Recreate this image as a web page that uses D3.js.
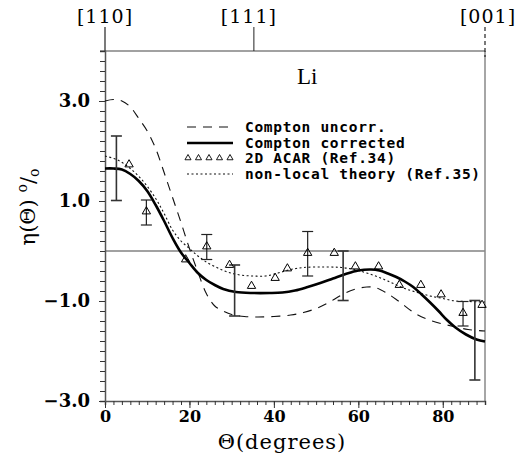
<!DOCTYPE html>
<html>
<head>
<meta charset="utf-8">
<style>
  body { margin: 0; background: #fff; }
  svg text { fill: #000; }
  .tick text { font-family: "DejaVu Serif", serif; font-weight: bold; }
  .legend { font-family: "DejaVu Sans Mono", monospace; font-size: 14.5px; font-weight: bold; letter-spacing: 0.7px; }
</style>
</head>
<body>
<script src="https://d3js.org/d3.v7.min.js"></script>
<script>
// Compton uncorrected (dashed)
var uncorrTheta = [0, 2, 4, 6, 8, 10, 12, 14, 16, 18, 20, 22, 24, 26, 28, 30, 33, 36, 40, 44, 47, 50, 53, 56, 59, 62, 64, 66.5, 69.5, 73.5, 77.5, 82, 86, 90];
var uncorrVals  = [3.0, 3.03, 3.0, 2.88, 2.65, 2.4, 2.05, 1.57, 1.07, 0.57, 0.05, -0.42, -0.85, -1.1, -1.2, -1.27, -1.31, -1.32, -1.31, -1.28, -1.23, -1.15, -1.03, -0.88, -0.77, -0.72, -0.73, -0.83, -1.0, -1.25, -1.4, -1.5, -1.57, -1.6];

// Compton corrected (thick solid)
var corrTheta = [0, 2, 4, 6, 8, 10, 12, 14, 16, 18, 20, 22, 24, 26, 28, 31, 35, 39, 42, 45, 48, 51, 54, 57, 60, 63, 65, 67, 69, 71, 73, 75, 77, 79, 81, 83, 85.5, 88, 90];
var corrVals  = [1.65, 1.65, 1.63, 1.54, 1.4, 1.2, 0.92, 0.6, 0.26, -0.03, -0.24, -0.44, -0.58, -0.68, -0.76, -0.82, -0.84, -0.84, -0.83, -0.79, -0.72, -0.64, -0.55, -0.46, -0.39, -0.37, -0.39, -0.45, -0.52, -0.61, -0.72, -0.87, -1.03, -1.2, -1.38, -1.53, -1.67, -1.77, -1.81];

// non-local theory (dotted)
var theoryTheta = [0, 3, 6, 9, 12, 14, 16, 18, 20, 22, 24, 26.5, 29, 32, 35, 38, 41, 44, 47, 52, 56, 59, 62, 65, 68, 71, 74, 77, 80, 83, 86, 90];
var theoryVals  = [1.9, 1.82, 1.65, 1.4, 1.05, 0.75, 0.42, 0.2, 0.05, -0.1, -0.22, -0.33, -0.42, -0.48, -0.5, -0.5, -0.44, -0.37, -0.33, -0.32, -0.33, -0.37, -0.44, -0.53, -0.64, -0.75, -0.83, -0.9, -0.95, -1.0, -1.01, -1.02];

// 2D ACAR points (triangles)
var acarTheta = [5.7, 9.8, 19.1, 24.1, 29.5, 34.7, 40.3, 43.2, 48, 54.3, 59.3, 64.8, 69.7, 74.8, 79.6, 84.8, 89.3];
var acarVals  = [1.71, 0.77, -0.19, 0.07, -0.3, -0.72, -0.56, -0.37, -0.06, -0.06, -0.33, -0.33, -0.7, -0.7, -0.89, -1.26, -1.1];

// error bars [theta, low, high]
var acarErrors = [[9.8, 0.52, 1.02], [24.1, -0.17, 0.33], [48, -0.5, 0.39], [84.8, -1.5, -1.01]];
var corrErrors = [[2.7, 1.01, 2.3], [30.7, -1.3, -0.28], [56.4, -0.99, 0.0], [87.6, -2.58, -0.99]];

var xTicks = [0, 20, 40, 60, 80];
var yTicks = [-3, -1, 1, 3];
var dirLabels = ["[110]", "[111]", "[001]"];
var dirTheta = [0, 35.26, 90];
var legendLabels = ["Compton uncorr.", "Compton corrected", "2D ACAR (Ref.34)", "non-local theory (Ref.35)"];

var svg = d3.select("body").append("svg")
    .attr("width", 517)
    .attr("height", 462);

var x = d3.scaleLinear().domain([0, 90]).range([105, 485]);
var y = d3.scaleLinear().domain([-3, 4]).range([401, 51]);

function pairs(t, v) { return t.map(function(d, i) { return [d, v[i]]; }); }

var line = d3.line()
    .curve(d3.curveCatmullRom)
    .x(function(d) { return x(d[0]); })
    .y(function(d) { return y(d[1]); });

// frame: top line, zero line, right border
svg.append("line").attr("x1", 100).attr("x2", x(90)).attr("y1", y(4)).attr("y2", y(4))
    .attr("stroke", "#444").attr("stroke-width", 1.2);
svg.append("line").attr("x1", x(0)).attr("x2", x(90)).attr("y1", y(0)).attr("y2", y(0))
    .attr("stroke", "#444").attr("stroke-width", 1.2);
svg.append("line").attr("x1", x(90)).attr("x2", x(90)).attr("y1", y(4)).attr("y2", y(-3))
    .attr("stroke", "#888").attr("stroke-width", 1.5);

// top direction markers
svg.append("line").attr("x1", x(0)).attr("x2", x(0)).attr("y1", 27).attr("y2", y(4))
    .attr("stroke", "#222").attr("stroke-width", 1.2);
svg.append("line").attr("x1", x(dirTheta[1])).attr("x2", x(dirTheta[1])).attr("y1", 27).attr("y2", y(4))
    .attr("stroke", "#222").attr("stroke-width", 1);
svg.append("line").attr("x1", x(90)).attr("x2", x(90)).attr("y1", 27).attr("y2", y(4) + 6)
    .attr("stroke", "#222").attr("stroke-width", 1.2).attr("stroke-dasharray", "4,3");
svg.selectAll(".dir").data(dirLabels).enter().append("text")
    .attr("class", "dir")
    .attr("x", function(d, i) { return x(dirTheta[i]) + [0, -5, 3][i]; })
    .attr("y", 23)
    .attr("text-anchor", "middle")
    .style("font-family", "DejaVu Serif, serif")
    .style("font-size", "19px")
    .style("letter-spacing", "1px")
    .text(function(d) { return d; });

// x axis: minor + major
svg.append("g")
    .attr("transform", "translate(0," + y(-3) + ")")
    .call(d3.axisBottom(x).tickValues(d3.range(0, 91, 2)).tickSize(4).tickFormat(""))
    .call(function(g) { g.select(".domain").attr("stroke", "#555").attr("stroke-width", 1.5); g.selectAll(".tick line").attr("stroke", "#333"); });
var xAxis = svg.append("g")
    .attr("transform", "translate(0," + y(-3) + ")")
    .call(d3.axisBottom(x).tickValues(xTicks).tickSize(7).tickPadding(3).tickFormat(d3.format("d")));
xAxis.select(".domain").remove();
xAxis.selectAll(".tick line").attr("stroke", "#333");
xAxis.selectAll(".tick text").style("font-size", "16px").attr("y", 10);

// y axis: minor + major
svg.append("g")
    .attr("transform", "translate(" + x(0) + ",0)")
    .call(d3.axisLeft(y).tickValues(d3.range(-3, 4.01, 0.2)).tickSize(5).tickFormat(""))
    .call(function(g) { g.select(".domain").attr("stroke", "#555").attr("stroke-width", 1.5); g.selectAll(".tick line").attr("stroke", "#333"); });
var yAxis = svg.append("g")
    .attr("transform", "translate(" + x(0) + ",0)")
    .call(d3.axisLeft(y).tickValues(yTicks).tickSize(6).tickPadding(9).tickFormat(d3.format(".1f")));
yAxis.select(".domain").remove();
yAxis.selectAll(".tick line").attr("stroke", "#333");
yAxis.selectAll(".tick text").style("font-size", "18px");

// curves
svg.append("path").datum(pairs(uncorrTheta, uncorrVals))
    .attr("d", line).attr("fill", "none").attr("stroke", "#111")
    .attr("stroke-width", 1.1).attr("stroke-dasharray", "9,7");
svg.append("path").datum(pairs(theoryTheta, theoryVals))
    .attr("d", line).attr("fill", "none").attr("stroke", "#111")
    .attr("stroke-width", 1.1).attr("stroke-dasharray", "2,2.5");
svg.append("path").datum(pairs(corrTheta, corrVals))
    .attr("d", line).attr("fill", "none").attr("stroke", "#000")
    .attr("stroke-width", 2.6);

// error bars
function errorBars(data, color, width) {
  var g = svg.append("g").attr("stroke", color).attr("stroke-width", width);
  data.forEach(function(d) {
    g.append("line").attr("x1", x(d[0])).attr("x2", x(d[0])).attr("y1", y(d[1])).attr("y2", y(d[2]));
    g.append("line").attr("x1", x(d[0]) - 5.5).attr("x2", x(d[0]) + 5.5).attr("y1", y(d[1])).attr("y2", y(d[1]));
    g.append("line").attr("x1", x(d[0]) - 5.5).attr("x2", x(d[0]) + 5.5).attr("y1", y(d[2])).attr("y2", y(d[2]));
  });
}
errorBars(corrErrors, "#333", 1.6);
errorBars(acarErrors, "#222", 1.2);

// ACAR triangles
var tri = d3.symbol().type(d3.symbolTriangle).size(30);
svg.selectAll(".acar").data(pairs(acarTheta, acarVals)).enter().append("path")
    .attr("class", "acar")
    .attr("d", tri)
    .attr("transform", function(d) { return "translate(" + x(d[0]) + "," + (y(d[1]) - 1) + ")"; })
    .attr("fill", "none").attr("stroke", "#000").attr("stroke-width", 1);

// label Li
svg.append("text").attr("x", 297).attr("y", 84)
    .style("font-family", "Liberation Serif, serif").style("font-size", "23px")
    .text("Li");

// legend
var legY = [132, 148, 163, 179];
var leg = svg.append("g");
leg.selectAll("text").data(legendLabels).enter().append("text")
    .attr("class", "legend")
    .attr("x", 245)
    .attr("y", function(d, i) { return legY[i]; })
    .text(function(d) { return d; });
leg.append("line").attr("x1", 187).attr("x2", 233).attr("y1", legY[0] - 5).attr("y2", legY[0] - 5)
    .attr("stroke", "#111").attr("stroke-width", 1.1).attr("stroke-dasharray", "9,7");
leg.append("line").attr("x1", 187).attr("x2", 233).attr("y1", legY[1] - 5).attr("y2", legY[1] - 5)
    .attr("stroke", "#000").attr("stroke-width", 2.6);
leg.append("line").attr("x1", 187).attr("x2", 233).attr("y1", legY[3] - 5).attr("y2", legY[3] - 5)
    .attr("stroke", "#111").attr("stroke-width", 1.1).attr("stroke-dasharray", "2,2.5");
leg.selectAll(".ltri").data(d3.range(5)).enter().append("path")
    .attr("class", "ltri")
    .attr("d", d3.symbol().type(d3.symbolTriangle).size(16))
    .attr("transform", function(d) { return "translate(" + (188 + d * 10.5) + "," + (legY[2] - 5) + ")"; })
    .attr("fill", "none").attr("stroke", "#000").attr("stroke-width", 0.9);

// axis titles
svg.append("text")
    .attr("x", 282).attr("y", 449)
    .attr("text-anchor", "middle")
    .style("font-family", "DejaVu Serif, serif").style("font-size", "21px")
    .style("letter-spacing", "1px")
    .text("Θ(degrees)");

var yt = svg.append("text")
    .attr("transform", "translate(35,207) rotate(-90)")
    .attr("text-anchor", "middle")
    .style("font-family", "DejaVu Serif, serif").style("font-size", "21px");
yt.append("tspan").text("η(Θ) ");
yt.append("tspan").attr("dy", -8).style("font-size", "14px").text("o");
yt.append("tspan").attr("dy", 8).style("font-size", "21px").text("/");
yt.append("tspan").attr("dy", 4).style("font-size", "14px").text("o");
</script>
</body>
</html>
